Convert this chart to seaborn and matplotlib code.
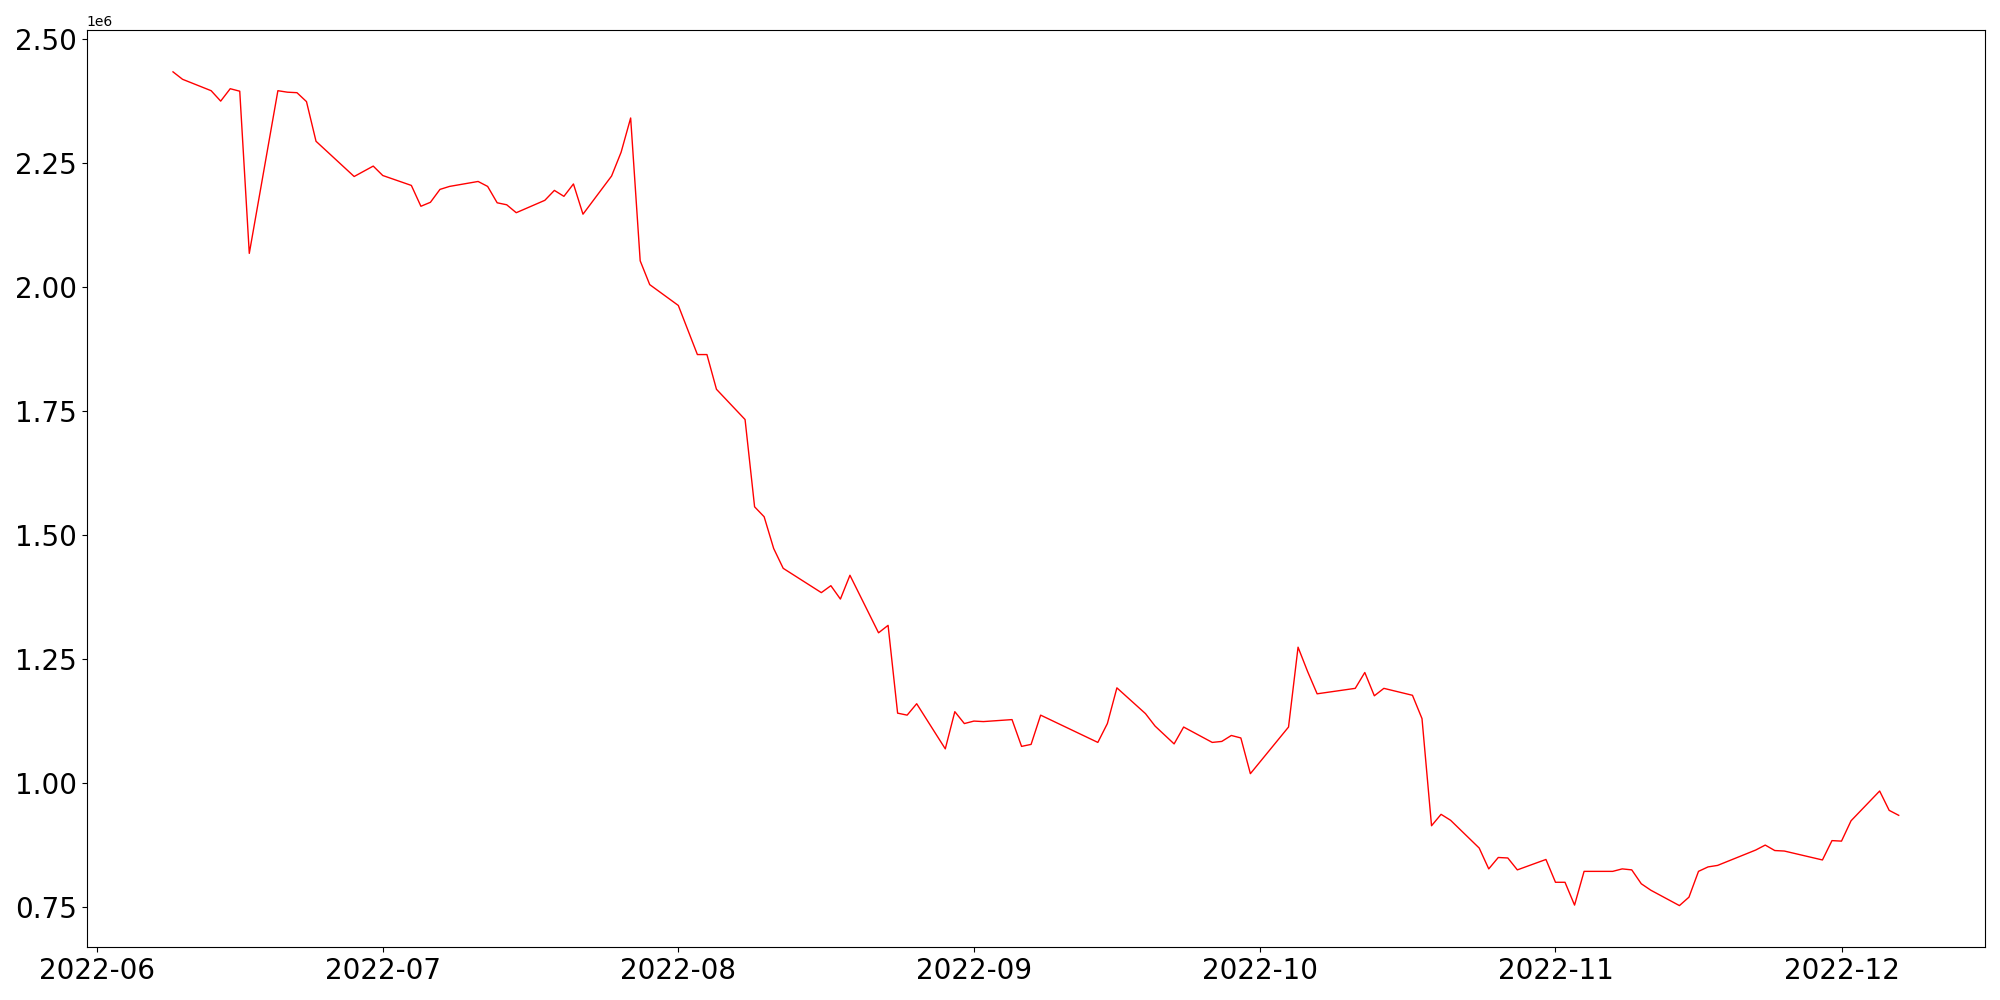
import matplotlib
matplotlib.use("Agg")
import matplotlib.pyplot as plt
import seaborn as sns
import pandas as pd

dates = [
    "2022-06-09", "2022-06-10", "2022-06-13", "2022-06-14", "2022-06-15", "2022-06-16", "2022-06-17",
    "2022-06-20", "2022-06-21", "2022-06-22", "2022-06-23", "2022-06-24", "2022-06-28", "2022-06-30",
    "2022-07-01", "2022-07-04", "2022-07-05", "2022-07-06", "2022-07-07", "2022-07-08",
    "2022-07-11", "2022-07-12", "2022-07-13", "2022-07-14", "2022-07-15",
    "2022-07-18", "2022-07-19", "2022-07-20", "2022-07-21", "2022-07-22",
    "2022-07-25", "2022-07-26", "2022-07-27", "2022-07-28", "2022-07-29",
    "2022-08-01", "2022-08-03", "2022-08-04", "2022-08-05",
    "2022-08-08", "2022-08-09", "2022-08-10", "2022-08-11", "2022-08-12",
    "2022-08-16", "2022-08-17", "2022-08-18", "2022-08-19",
    "2022-08-22", "2022-08-23", "2022-08-24", "2022-08-25", "2022-08-26",
    "2022-08-29", "2022-08-30", "2022-08-31", "2022-09-01", "2022-09-02",
    "2022-09-05", "2022-09-06", "2022-09-07", "2022-09-08",
    "2022-09-14", "2022-09-15", "2022-09-16",
    "2022-09-19", "2022-09-20", "2022-09-22", "2022-09-23",
    "2022-09-26", "2022-09-27", "2022-09-28", "2022-09-29", "2022-09-30",
    "2022-10-04", "2022-10-05", "2022-10-06", "2022-10-07",
    "2022-10-11", "2022-10-12", "2022-10-13", "2022-10-14",
    "2022-10-17", "2022-10-18", "2022-10-19", "2022-10-20", "2022-10-21",
    "2022-10-24", "2022-10-25", "2022-10-26", "2022-10-27", "2022-10-28",
    "2022-10-31", "2022-11-01", "2022-11-02", "2022-11-03", "2022-11-04",
    "2022-11-07", "2022-11-08", "2022-11-09", "2022-11-10", "2022-11-11",
    "2022-11-14", "2022-11-15", "2022-11-16", "2022-11-17", "2022-11-18",
    "2022-11-22", "2022-11-23", "2022-11-24", "2022-11-25",
    "2022-11-29", "2022-11-30", "2022-12-01", "2022-12-02",
    "2022-12-05", "2022-12-06", "2022-12-07",
]

values = [
    2434000, 2419000, 2396000, 2375000, 2400000, 2395000, 2068000,
    2396000, 2393000, 2392000, 2374000, 2294000, 2223000, 2244000,
    2225000, 2205000, 2163000, 2171000, 2197000, 2203000,
    2213000, 2203000, 2170000, 2166000, 2150000,
    2175000, 2195000, 2183000, 2208000, 2147000,
    2224000, 2272000, 2341000, 2053000, 2005000,
    1963000, 1864000, 1864000, 1794000,
    1733000, 1557000, 1537000, 1473000, 1433000,
    1384000, 1398000, 1371000, 1419000,
    1303000, 1318000, 1141000, 1137000, 1160000,
    1069000, 1144000, 1120000, 1125000, 1124000,
    1128000, 1074000, 1078000, 1137000,
    1082000, 1120000, 1192000,
    1140000, 1115000, 1079000, 1113000,
    1082000, 1084000, 1096000, 1091000, 1019000,
    1113000, 1274000, 1225000, 1180000,
    1191000, 1223000, 1176000, 1191000,
    1177000, 1130000, 914000, 937000, 925000,
    869000, 827000, 850000, 849000, 825000,
    846000, 800000, 800000, 754000, 822000,
    822000, 827000, 825000, 797000, 784000,
    753000, 770000, 822000, 831000, 834000,
    865000, 875000, 864000, 863000,
    845000, 884000, 883000, 924000,
    984000, 945000, 935000,
]

df = pd.DataFrame({"date": pd.to_datetime(dates), "value": values})

fig, ax = plt.subplots(figsize=(20, 10), dpi=100)
sns.lineplot(data=df, x="date", y="value", color="red", linewidth=1.0, ax=ax)
ax.set_xlabel("")
ax.set_ylabel("")
ax.tick_params(axis="both", labelsize=20)
fig.tight_layout()
fig.savefig("out.png", dpi=100)
